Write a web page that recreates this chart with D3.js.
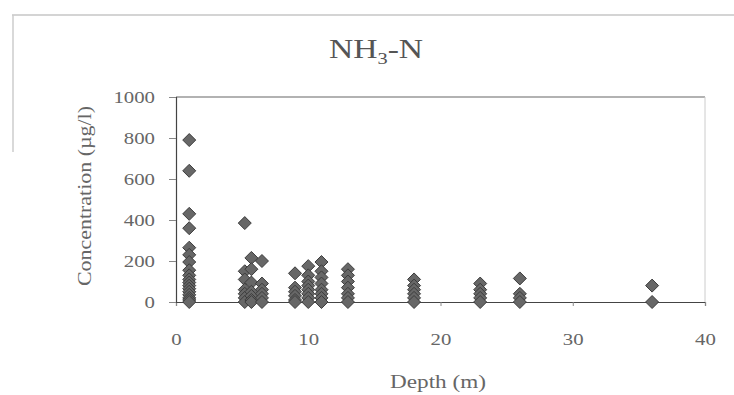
<!DOCTYPE html>
<html>
<head>
<meta charset="utf-8">
<script src="https://cdn.jsdelivr.net/npm/d3@7"></script>
<style>
  body { margin: 0; background: #fff; }
  text { font-family: "Liberation Serif", "DejaVu Serif", serif; }
</style>
</head>
<body>
<div id="chart"></div>
<script>
// depth (m) for each group of samples, and concentrations read per group
const depths = [1, 5.2, 5.7, 6.5, 9, 10, 11, 13, 18, 23, 26, 36];
const concentrations = [
  [790, 640, 430, 360, 265, 230, 195, 155, 130, 110, 95, 80, 65, 50, 35, 20, 10, 0],
  [385, 150, 110, 60, 40, 20, 0],
  [215, 160, 95, 50, 30, 10, 0],
  [200, 90, 60, 40, 20, 0],
  [140, 70, 50, 30, 10, 0],
  [175, 130, 100, 80, 60, 40, 20, 0],
  [195, 150, 120, 90, 60, 40, 20, 0],
  [160, 130, 100, 70, 40, 20, 0],
  [110, 80, 60, 40, 20, 0],
  [90, 60, 40, 20, 0],
  [115, 40, 20, 0],
  [80, 0]
];
const xTicks = [0, 10, 20, 30, 40];
const yTicks = [0, 200, 400, 600, 800, 1000];

const W = 734, H = 395;
const margin = { top: 97, right: 29, bottom: 93, left: 176 };
const stretch = 1.3; // the source text is drawn wide

const svg = d3.select('#chart').append('svg')
  .attr('width', W)
  .attr('height', H);

// outer chart border (only top and part of left visible)
svg.append('line').attr('x1', 12).attr('x2', W).attr('y1', 15).attr('y2', 15)
  .attr('stroke', '#aaa').attr('stroke-width', 1.2);
svg.append('line').attr('x1', 13).attr('x2', 13).attr('y1', 15).attr('y2', 152)
  .attr('stroke', '#ccc').attr('stroke-width', 1.5);

const x = d3.scaleLinear().domain([0, 40]).range([margin.left, W - margin.right]);
const y = d3.scaleLinear().domain([0, 1000]).range([H - margin.bottom, margin.top]);

// plot area frame: top and right
svg.append('line').attr('x1', x(0)).attr('x2', x(40)).attr('y1', y(1000)).attr('y2', y(1000))
  .attr('stroke', '#666').attr('stroke-width', 1.2);
svg.append('line').attr('x1', x(40)).attr('x2', x(40)).attr('y1', y(1000)).attr('y2', y(0))
  .attr('stroke', '#ccc');

const xAxis = svg.append('g')
  .attr('transform', `translate(0,${y(0)})`)
  .call(d3.axisBottom(x).tickValues(xTicks).tickSize(4).tickPadding(28).tickFormat(d3.format('d')));
const yAxis = svg.append('g')
  .attr('transform', `translate(${x(0)},0)`)
  .call(d3.axisLeft(y).tickValues(yTicks).tickSize(7).tickPadding(14).tickFormat(d3.format('d')));

[xAxis, yAxis].forEach(a => {
  a.select('.domain').attr('stroke', '#444').attr('stroke-width', 1.2);
  a.selectAll('.tick line').attr('stroke', '#888');
  a.selectAll('.tick text')
    .style('font-size', '16px')
    .style('font-family', '"Liberation Serif", serif')
    .attr('fill', '#666')
    .attr('x', function () { return +d3.select(this).attr('x') / stretch; })
    .attr('transform', `scale(${stretch},1)`);
});

// markers
const points = [];
depths.forEach((d, i) => concentrations[i].forEach(v => points.push({ depth: d, value: v })));

const r = 6.5;
const diamond = `M0,${-r}L${r},0L0,${r}L${-r},0Z`;
svg.append('g').selectAll('path')
  .data(points)
  .enter().append('path')
  .attr('d', diamond)
  .attr('transform', d => `translate(${x(d.depth)},${y(d.value)})`)
  .attr('fill', '#676767')
  .attr('stroke', '#3c3c3c')
  .attr('stroke-width', 1);

// title
const title = svg.append('text')
  .attr('transform', `translate(376,58) scale(1.2,1)`)
  .attr('text-anchor', 'middle')
  .attr('fill', '#555')
  .style('font-size', '28px');
title.append('tspan').text('NH');
title.append('tspan').text('3').style('font-size', '17px').attr('dy', 6);
title.append('tspan').text('-N').attr('dy', -6);

// axis titles
svg.append('text')
  .attr('x', 438).attr('y', 388)
  .attr('text-anchor', 'middle')
  .attr('fill', '#666')
  .style('font-size', '19px')
  .attr('textLength', 96)
  .attr('lengthAdjust', 'spacingAndGlyphs')
  .text('Depth (m)');

svg.append('text')
  .attr('transform', `translate(91,196) rotate(-90)`)
  .attr('text-anchor', 'middle')
  .attr('fill', '#666')
  .style('font-size', '19px')
  .attr('textLength', 180)
  .attr('lengthAdjust', 'spacingAndGlyphs')
  .text('Concentration (µg/l)');
</script>
</body>
</html>
